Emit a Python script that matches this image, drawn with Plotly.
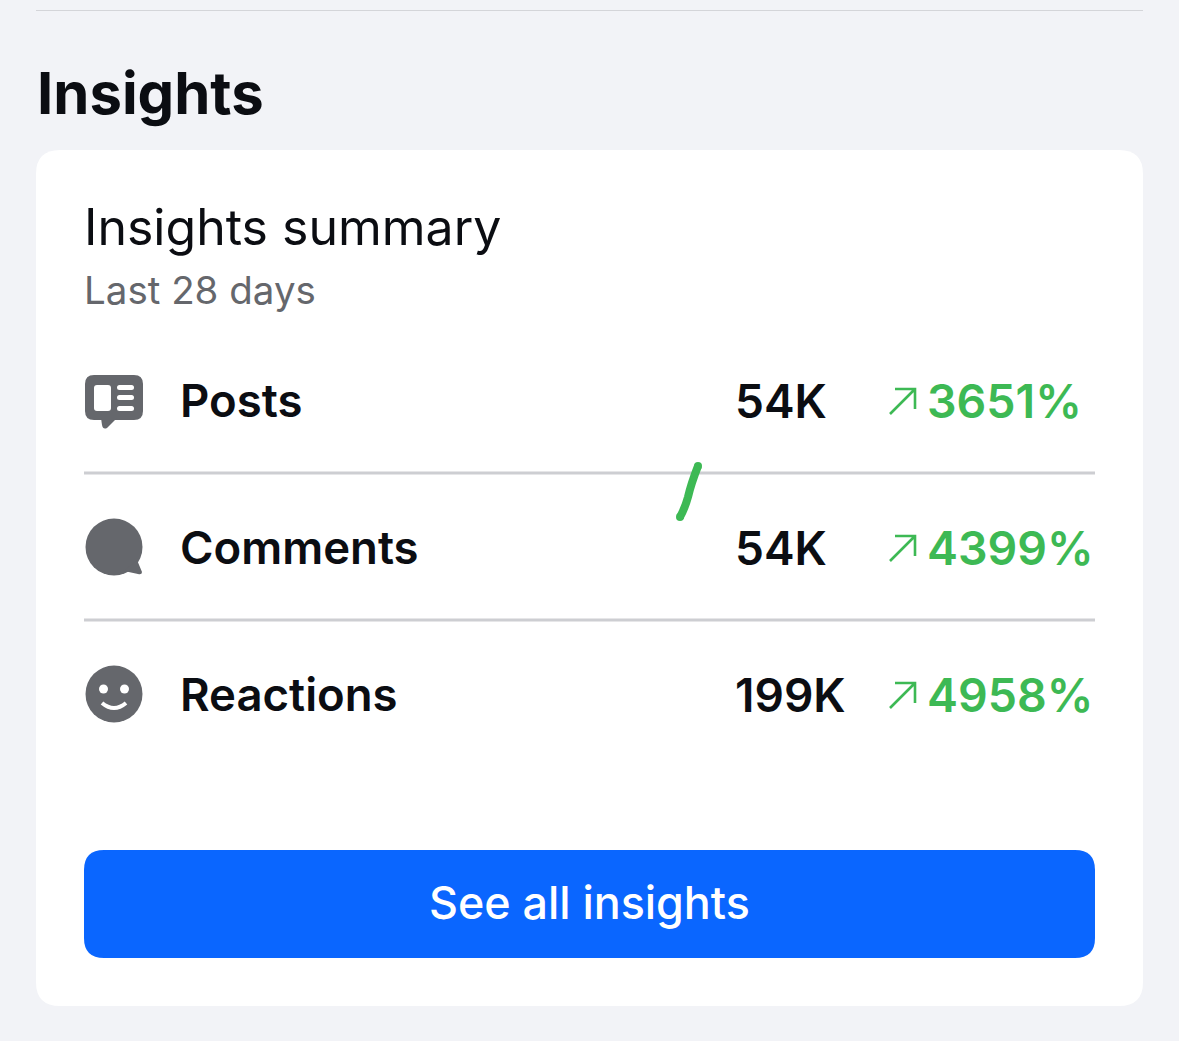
import plotly.graph_objects as go

categories = ["Posts", "Comments", "Reactions"]
totals = ["54K", "54K", "199K"]
changes = ["3651%", "4399%", "4958%"]
row_y = [400, 547, 694]
heading = "Insights"
card_title = "Insights summary"
card_sub = "Last 28 days"
button_label = "See all insights"

BG = "#F2F3F7"
GREY = "#65676C"
GREEN = "#3DB954"
RULE = "#CDCED2"
FONT = "Inter"


def rrect(x0, y0, x1, y1, r):
    return (f"M{x0+r},{y0} L{x1-r},{y0} Q{x1},{y0} {x1},{y0+r} L{x1},{y1-r} Q{x1},{y1} {x1-r},{y1} "
            f"L{x0+r},{y1} Q{x0},{y1} {x0},{y1-r} L{x0},{y0+r} Q{x0},{y0} {x0+r},{y0} Z")


def circle(cx, cy, r, color):
    return dict(type="circle", x0=cx-r, x1=cx+r, y0=cy-r, y1=cy+r, fillcolor=color,
                line=dict(width=0), layer="above")


def fill(path, color, layer="above"):
    return dict(type="path", path=path, fillcolor=color, line=dict(width=0), layer=layer)


def stroke(path, color, w):
    return dict(type="path", path=path, line=dict(color=color, width=w), layer="above")


shapes = [
    dict(type="line", x0=36, x1=1143, y0=10.5, y1=10.5, line=dict(color="#D4D5D9", width=1)),
    fill(rrect(36, 150, 1143, 1006, 24), "#FFFFFF"),
    dict(type="line", x0=84, x1=1095, y0=473, y1=473, line=dict(color=RULE, width=3)),
    dict(type="line", x0=84, x1=1095, y0=620, y1=620, line=dict(color=RULE, width=3)),
    fill(rrect(84, 850, 1095, 958, 20), "#0A66FF"),
    # green pen stroke with rounded ends
    stroke("M698,466 Q691,484 688,497 Q685,508 680,517", GREEN, 8),
    circle(698, 466, 4, GREEN),
    circle(680, 517, 4, GREEN),
    # posts icon
    fill(rrect(85, 375, 143, 420, 9), GREY),
    fill("M101,418 L117,418 L107,428 Q103,430 102,425 Z", GREY),
    fill(rrect(94, 385, 111, 411, 3), "#FFFFFF"),
    fill(rrect(117, 385, 134, 390, 2.5), "#FFFFFF"),
    fill(rrect(117, 395, 134, 400, 2.5), "#FFFFFF"),
    fill(rrect(117, 406, 134, 411, 2.5), "#FFFFFF"),
    # comments icon
    circle(114, 547, 28.5, GREY),
    fill("M137,560 L142,572 Q142,575 138,574 L124,571 Z", GREY),
    # reactions icon
    circle(114, 694, 28.5, GREY),
    circle(103.5, 689, 4.5, "#FFFFFF"),
    circle(124.5, 689, 4.5, "#FFFFFF"),
    stroke("M102,703 Q114,713 126,703", "#FFFFFF", 4),
]

annotations = []


def text(x, y, s, size, color, weight=400, anchor="left"):
    annotations.append(dict(x=x, y=y, text=s, showarrow=False, xanchor=anchor, yanchor="middle",
                            xref="x", yref="y",
                            font=dict(family=FONT, size=size, color=color, weight=weight)))


text(35, 93, heading, 58, "#0B0D12", 700)
text(82, 227, card_title, 50, "#0B0D12", 400)
text(82, 290, card_sub, 38.5, GREY, 400)
text(589, 903, button_label, 44.8, "#FFFFFF", 500, "center")

for cat, tot, chg, y in zip(categories, totals, changes, row_y):
    text(178, y, cat, 45.5, "#0B0D12", 600)
    text(733, y + 1, tot, 46, "#0B0D12", 600)
    text(925, y + 1, chg, 46.5, GREEN, 600)
    shapes.append(stroke(f"M890,{y+14} L915,{y-11} M895,{y-11} L915,{y-11} L915,{y+9}", GREEN, 2.6))

fig = go.Figure()
fig.update_layout(
    width=1179, height=1041, margin=dict(l=0, r=0, t=0, b=0),
    paper_bgcolor=BG, plot_bgcolor=BG, showlegend=False,
    xaxis=dict(range=[0, 1179], visible=False, fixedrange=True),
    yaxis=dict(range=[1041, 0], visible=False, fixedrange=True),
    shapes=shapes, annotations=annotations,
)
fig.write_html("out.html", config=dict(displayModeBar=False),
               post_script="document.body.style.margin='0';document.documentElement.style.overflow='hidden';")
